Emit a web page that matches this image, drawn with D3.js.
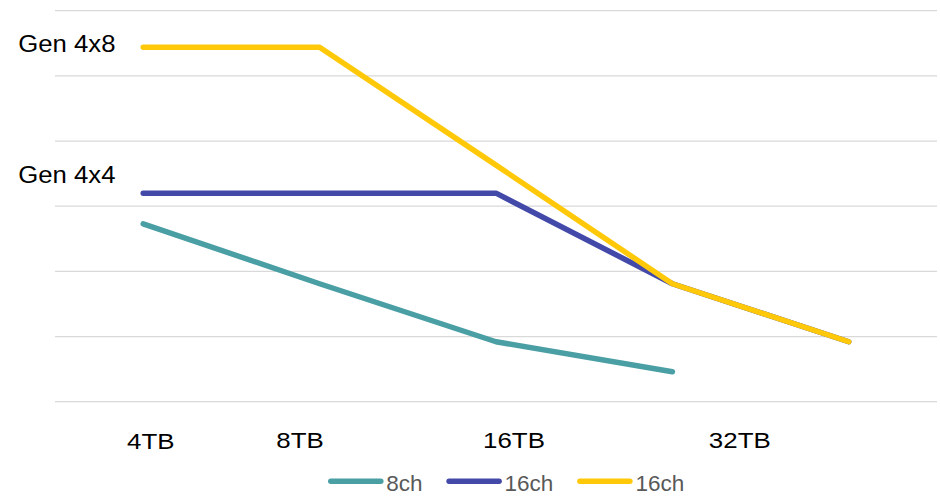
<!DOCTYPE html>
<html>
<head>
<meta charset="utf-8">
<script src="https://cdn.jsdelivr.net/npm/d3@7"></script>
<style>
  html, body { margin: 0; padding: 0; background: #fff; }
  svg { display: block; }
  text { font-family: Arial, "Liberation Sans", sans-serif; }
</style>
</head>
<body>
<svg id="chart" width="940" height="496"></svg>
<script>
// ---- data ----
const categories = ["c1", "c2", "c3", "c4", "c5"];
const seriesNames = ["8ch", "16ch", "16ch"];
const series8ch   = [2.73, 1.81, 0.92, 0.46];
const series16chA = [3.20, 3.20, 3.20, 1.81, 0.92];
const series16chB = [5.44, 5.44, 3.63, 1.81, 0.92];
const yTicks = [0, 1, 2, 3, 4, 5, 6];
const xLabels = ["4TB", "8TB", "16TB", "32TB"];
const sideLabels = ["Gen 4x8", "Gen 4x4"];

// ---- layout ----
const colors = ["#4a9fa4", "#4349a8", "#ffc90a"];
const svg = d3.select("#chart");
const x = d3.scaleBand().domain(categories).range([55, 937]).padding(0);
const xIdx = d3.scaleLinear().domain([0, categories.length]).range([55, 937]);
const y = d3.scaleLinear().domain([0, 6]).range([401.7, 10.7]);

// gridlines
svg.append("g").selectAll("line").data(yTicks).join("line")
  .attr("x1", 55).attr("x2", 937)
  .attr("y1", d => y(d)).attr("y2", d => y(d))
  .attr("stroke", "#d9d9d9").attr("stroke-width", 1.3);

// lines
const allSeries = [series8ch, series16chA, series16chB];
const line = d3.line()
  .x((d, i) => x(categories[i]) + x.bandwidth() / 2)
  .y(d => y(d));
svg.append("g").selectAll("path").data(allSeries).join("path")
  .attr("d", d => line(d))
  .attr("fill", "none")
  .attr("stroke", (d, i) => colors[i])
  .attr("stroke-width", 5.5)
  .attr("stroke-linecap", "round")
  .attr("stroke-linejoin", "round");

// x annotation labels (positioned freely like text boxes)
const xLabelPos = [0.543, 1.389, 2.602, 3.882];
const xLabelBase = [449.3, 447.7, 448.3, 448.3];
const stretch = 1.15;
xLabels.forEach((t, i) => {
  const cx = xIdx(xLabelPos[i]);
  svg.append("text")
    .attr("transform", `translate(${cx},${xLabelBase[i]}) scale(${stretch},1)`)
    .attr("text-anchor", "middle")
    .attr("font-size", 22.5)
    .attr("fill", "#000")
    .text(t);
});

// side labels
const sideBase = [51.7, 183.3];
sideLabels.forEach((t, i) => {
  svg.append("text")
    .attr("transform", `translate(18.3,${sideBase[i]}) scale(1.05,1)`)
    .attr("font-size", 24.5)
    .attr("fill", "#000")
    .text(t);
});

// legend
const lg = svg.append("g");
let lx = 328.3;
seriesNames.forEach((name, i) => {
  lg.append("line")
    .attr("x1", lx + 2.5).attr("x2", lx + 52.5)
    .attr("y1", 481.3).attr("y2", 481.3)
    .attr("stroke", colors[i]).attr("stroke-width", 5.5)
    .attr("stroke-linecap", "round");
  const t = lg.append("text")
    .attr("x", lx + 58).attr("y", 491)
    .attr("font-size", 22.5)
    .attr("fill", "#595959")
    .text(name);
  lx += 58 + t.node().getComputedTextLength() + 24;
});
</script>
</body>
</html>
